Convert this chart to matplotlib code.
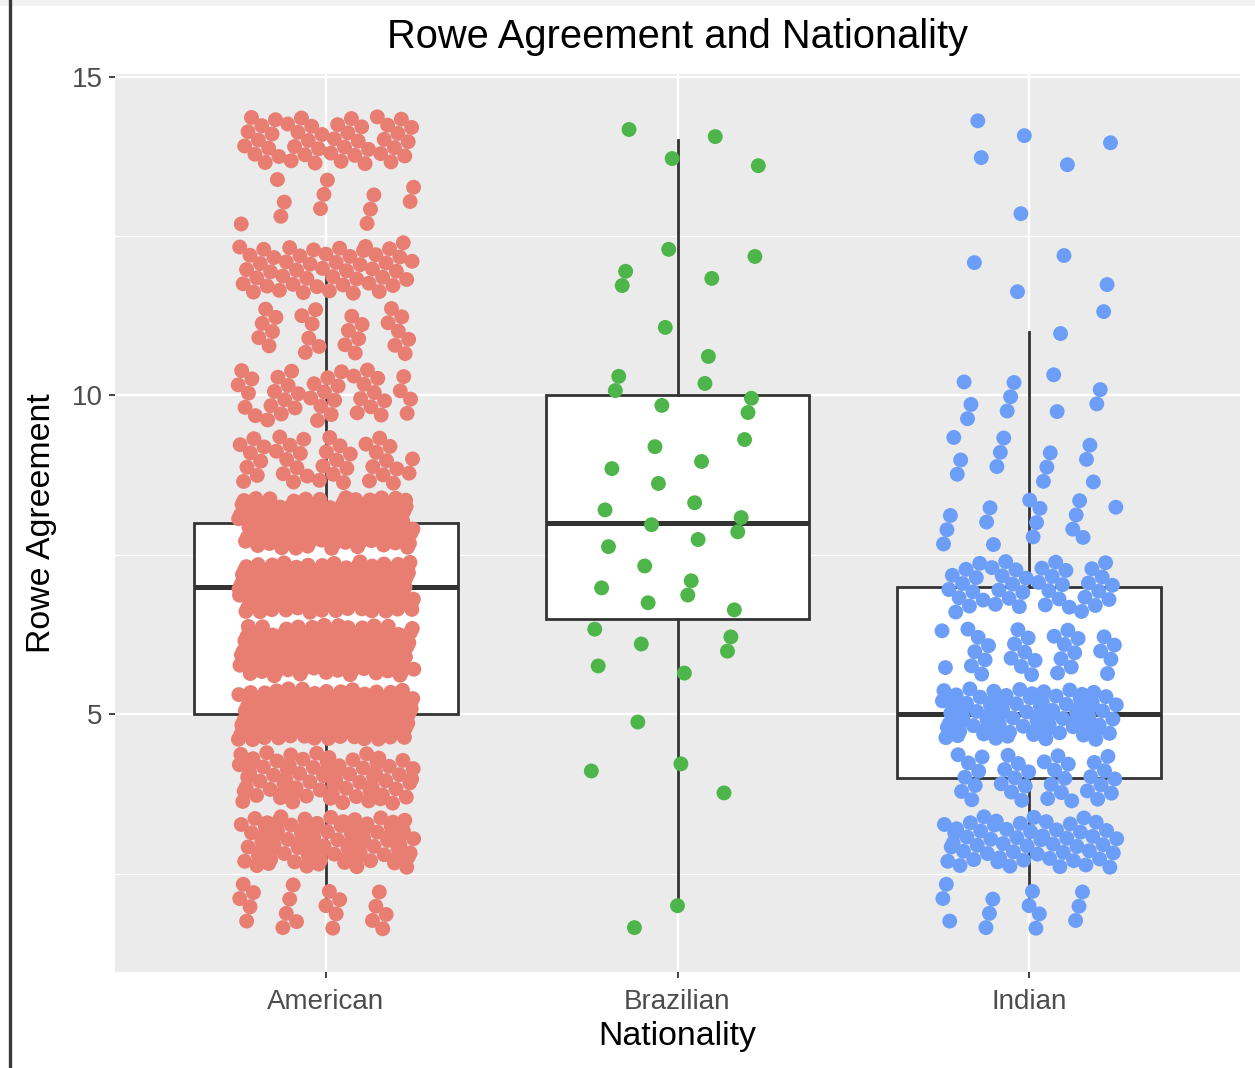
import matplotlib
matplotlib.use("Agg")
import matplotlib.pyplot as plt
from matplotlib.lines import Line2D
from matplotlib.patches import Rectangle
import numpy as np

plt.rcParams["font.family"] = ["Liberation Sans", "DejaVu Sans"]

# data: integer Rowe Agreement scores, counted per level for each group
nationalities = ["American", "Brazilian", "Indian"]
levels = [2, 3, 4, 5, 6, 7, 8, 9, 10, 11, 12, 13, 14]
american_counts = [20, 80, 70, 150, 120, 140, 130, 40, 40, 25, 50, 12, 45]
brazilian_counts = [2, 0, 3, 1, 6, 6, 7, 5, 6, 2, 5, 0, 4]
indian_counts = [13, 55, 35, 80, 30, 42, 15, 12, 10, 2, 4, 1, 5]
point_colors = ["#E87D72", "#4DB54A", "#6C9EF8"]

W, H = 1255, 1068
fig = plt.figure(figsize=(W / 100, H / 100), dpi=100)
ax = fig.add_axes([115 / W, 1 - 972 / H, 1125 / W, 898 / H])
ax.set_facecolor("#EBEBEB")

groups = [np.repeat(levels, c) for c in (american_counts, brazilian_counts, indian_counts)]
positions = [1, 2, 3]

ax.boxplot(groups, positions=positions, widths=0.75, patch_artist=True,
           showfliers=False, showcaps=False, whis=1.5,
           boxprops=dict(facecolor="white", edgecolor="#333333", linewidth=2.0),
           medianprops=dict(color="#333333", linewidth=3.6),
           whiskerprops=dict(color="#333333", linewidth=2.0),
           zorder=2)

# geom_jitter style spread, deterministic (R2 low-discrepancy sequence)
g = 1.32471795724
a1, a2 = 1 / g, 1 / g ** 2
for pos, vals, col in zip(positions, groups, point_colors):
    i = np.arange(len(vals))
    jx = (np.mod(0.5 + a1 * i, 1) - 0.5) * 2 * 0.25
    jy = (np.mod(0.5 + a2 * i, 1) - 0.5) * 2 * 0.4
    ax.scatter(pos + jx, vals + jy, s=115, color=col, edgecolors="none", zorder=3)

ax.set_xlim(0.4, 3.6)
ax.set_ylim(0.96, 15.04)
ax.set_xticks(positions)
ax.set_xticklabels(nationalities)
ax.set_yticks([5, 10, 15])
ax.set_yticks([2.5, 7.5, 12.5], minor=True)
ax.set_axisbelow(True)
ax.grid(which="major", color="white", linewidth=1.7)
ax.grid(which="minor", axis="y", color="white", linewidth=0.9)
for s in ax.spines.values():
    s.set_visible(False)
ax.tick_params(which="major", length=4, width=1.3, color="#333333",
               labelsize=20, labelcolor="#4D4D4D", pad=5)
ax.tick_params(axis="x", which="major", pad=8)
ax.tick_params(which="minor", length=0)

fig.text(677.5 / W, 1 - 37 / H, "Rowe Agreement and Nationality", fontsize=28.7,
         ha="center", va="center")
fig.text(677.5 / W, 1 - 1036 / H, "Nationality", fontsize=24.4, ha="center", va="center")
fig.text(42 / W, 1 - 523 / H, "Rowe Agreement", fontsize=24.4, ha="center", va="center",
         rotation=90)

# screenshot frame
fig.add_artist(Rectangle((0, 1 - 6 / H), 1, 6 / H, transform=fig.transFigure,
                         color="#F2F2F2", lw=0))
fig.add_artist(Line2D([10 / W, 10 / W], [0, 1], transform=fig.transFigure,
                      color="#3A3A3A", lw=2.4))

fig.savefig("out.png", dpi=100)
